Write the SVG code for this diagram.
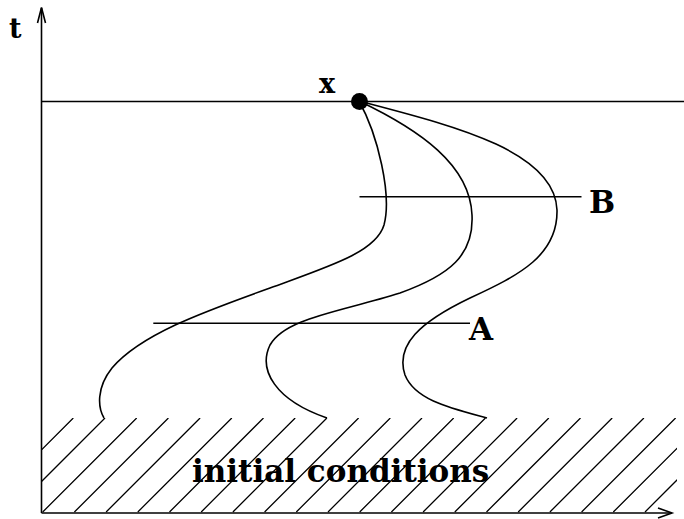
<svg xmlns="http://www.w3.org/2000/svg" width="684" height="519" viewBox="0 0 684 519">
  <style>
    .ln { stroke: #000; stroke-width: 1.6; fill: none; }
    .hatch { stroke: #000; stroke-width: 1.3; fill: none; }
    .cv { stroke: #000; stroke-width: 1.6; fill: none; }
    .lbl { font-family: "DejaVu Serif", "Liberation Serif", serif; font-weight: bold; fill: #000; }
  </style>
  <defs>
    <clipPath id="hatchClip">
      <rect x="41.5" y="418" width="635.5" height="95"/>
    </clipPath>
  </defs>

  <g id="hatching" clip-path="url(#hatchClip)" class="hatch">
    <path d="M73.3,418 l-94,94 M105,418 l-94,94 M136.7,418 l-94,94 M168.4,418 l-94,94 M200.1,418 l-94,94 M231.8,418 l-94,94 M263.5,418 l-94,94 M295.2,418 l-94,94 M326.9,418 l-94,94 M358.6,418 l-94,94 M390.3,418 l-94,94 M422,418 l-94,94 M453.7,418 l-94,94 M485.4,418 l-94,94 M517.1,418 l-94,94 M548.8,418 l-94,94 M580.5,418 l-94,94 M612.2,418 l-94,94 M643.9,418 l-94,94 M675.6,418 l-94,94 M707.3,418 l-94,94 M739,418 l-94,94"/>
  </g>

  <g id="axes" class="ln">
    <line x1="41.5" y1="513" x2="41.5" y2="8"/>
    <polyline points="37.5,23 41.5,7.5 45.5,23"/>
    <line x1="41.5" y1="513" x2="672" y2="513"/>
    <polyline points="658,508 672,513 658,518"/>
  </g>

  <g id="connectors">
    <line id="time-line" class="ln" x1="41.5" y1="101.5" x2="684" y2="101.5"/>
    <line id="line-B" class="ln" x1="359.5" y1="196.8" x2="581.5" y2="196.8"/>
    <line id="line-A" class="ln" x1="153.3" y1="323.3" x2="470" y2="323.3"/>
    <path id="curve-1" class="cv" d="M359,101 C378,135 392,195 384,225 C376,252 330,266 270,288 C200,313 140,335 112,368 C96,388 98,408 104,418"/>
    <path id="curve-2" class="cv" d="M359,101 C420,130 470,165 472,215 C474,255 450,275 400,293 C340,312 285,318 270,345 C258,370 275,400 327,418"/>
    <path id="curve-3" class="cv" d="M359,101 C450,125 555,150 557,210 C558,255 520,275 470,298 C420,322 395,345 405,375 C415,400 450,408 487,418"/>
  </g>

  <g id="node-x">
    <circle cx="359.5" cy="101.5" r="8.5" fill="#000"/>
    <text class="lbl" x="319" y="93" font-size="27">x</text>
  </g>

  <g id="label-t">
    <text class="lbl" x="9" y="38" font-size="27">t</text>
  </g>
  <g id="label-B">
    <text class="lbl" x="589" y="213" font-size="31">B</text>
  </g>
  <g id="label-A">
    <text class="lbl" x="469" y="340" font-size="31">A</text>
  </g>
  <g id="label-initial">
    <text class="lbl" x="192" y="482" font-size="31">initial conditions</text>
  </g>
</svg>
